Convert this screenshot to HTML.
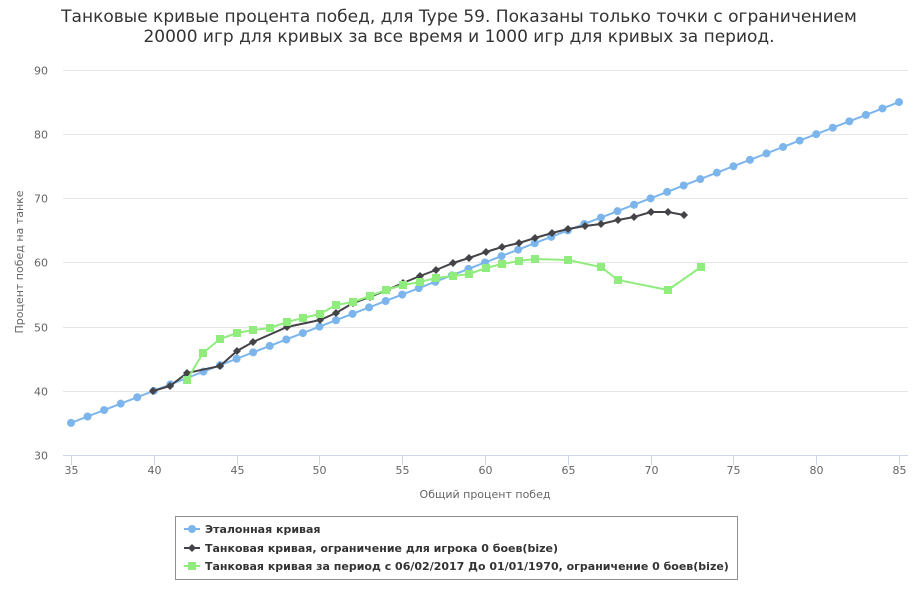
<!DOCTYPE html>
<html><head><meta charset="utf-8"><style>
body{margin:0;background:#fff;}
svg text{font-family:"DejaVu Sans","Liberation Sans",sans-serif;}
</style></head><body>
<svg id="s" width="918" height="587" xmlns="http://www.w3.org/2000/svg">
<text x="459" y="22" text-anchor="middle" font-size="17" fill="#333">Танковые кривые процента побед, для Type 59. Показаны только точки с ограничением</text>
<text x="459" y="42" text-anchor="middle" font-size="17" fill="#333">20000 игр для кривых за все время и 1000 игр для кривых за период.</text>
<g id="grid"></g>
<text transform="translate(23,262) rotate(-90)" text-anchor="middle" font-size="11" fill="#666">Процент побед на танке</text>
<text x="485" y="498" text-anchor="middle" font-size="11" fill="#666">Общий процент побед</text>
<g id="series"></g>
<rect x="175.5" y="516.5" width="562" height="63" fill="none" stroke="#909090"/>
<g font-size="11" font-weight="bold" fill="#333">
<line x1="184" y1="529" x2="200" y2="529" stroke="#7cb5ec" stroke-width="2"/><circle cx="192" cy="529" r="4" fill="#7cb5ec"/>
<text x="205" y="533">Эталонная кривая</text>
<line x1="184" y1="548" x2="200" y2="548" stroke="#434348" stroke-width="2"/><path d="M192 544L196 548L192 552L188 548Z" fill="#434348"/>
<text x="205" y="552">Танковая кривая, ограничение для игрока 0 боев(bize)</text>
<line x1="184" y1="566" x2="200" y2="566" stroke="#90ed7d" stroke-width="2"/><rect x="188" y="562" width="8" height="8" fill="#90ed7d"/>
<text x="205" y="570">Танковая кривая за период с 06/02/2017 До 01/01/1970, ограничение 0 боев(bize)</text>
</g>
</svg>
<script>
var NS="http://www.w3.org/2000/svg",g=document.getElementById("grid"),s=document.getElementById("series");
function el(p,t,a,txt){var e=document.createElementNS(NS,t);for(var k in a)e.setAttribute(k,a[k]);if(txt!=null)e.textContent=txt;p.appendChild(e);return e;}
function X(v){return 71+(v-35)*16.56;}function Y(v){return 455-(v-30)*6.417;}
for(var v=30;v<=90;v+=10){var y=Math.round(Y(v))+0.5;el(g,"line",{x1:63,x2:908,y1:y,y2:y,stroke:"#e6e6e6"});el(g,"text",{x:48,y:y+4,"text-anchor":"end","font-size":11,fill:"#666"},v);}
el(g,"line",{x1:63,x2:908,y1:455.5,y2:455.5,stroke:"#ccd6eb"});
for(var v=35;v<=85;v+=5){var x=Math.round(X(v))+0.5;el(g,"line",{x1:x,x2:x,y1:455,y2:465,stroke:"#ccd6eb"});el(g,"text",{x:x,y:474,"text-anchor":"middle","font-size":11,fill:"#666"},v);}
var blue=[];for(var v=35;v<=85;v++)blue.push([X(v),Y(v)]);
var dark=[[153,391],[170,386],[187,373],[220,366],[237,351],[253,342],[287,327],[320,320],[336,313],[353,303],[370,297],[387,290],[403,283],[420,276],[436,270],[453,263],[469,258],[486,252],[502,247],[519,243],[535,238],[552,233],[568,229],[585,226],[601,224],[618,220],[634,217],[651,212],[668,212],[684,215]];
var green=[[187,380],[203,353],[220,339],[237,333],[253,330],[270,328],[287,322],[303,318],[320,314],[336,305],[353,302],[370,296],[386,290],[403,285],[420,282],[436,278],[453,276],[469,274],[486,268],[502,264],[519,261],[535,259],[568,260],[601,267],[618,280],[668,290],[701,267]];
function line(p,c){el(s,"polyline",{points:p.map(a=>a.join(",")).join(" "),fill:"none",stroke:c,"stroke-width":2});}
line(blue,"#7cb5ec");blue.forEach(p=>el(s,"circle",{cx:p[0],cy:p[1],r:4,fill:"#7cb5ec"}));
line(dark,"#434348");dark.forEach(p=>el(s,"path",{d:"M"+p[0]+" "+(p[1]-4)+"L"+(p[0]+4)+" "+p[1]+"L"+p[0]+" "+(p[1]+4)+"L"+(p[0]-4)+" "+p[1]+"Z",fill:"#434348"}));
line(green,"#90ed7d");green.forEach(p=>el(s,"rect",{x:p[0]-4,y:p[1]-4,width:8,height:8,fill:"#90ed7d"}));
</script>
</body></html>
